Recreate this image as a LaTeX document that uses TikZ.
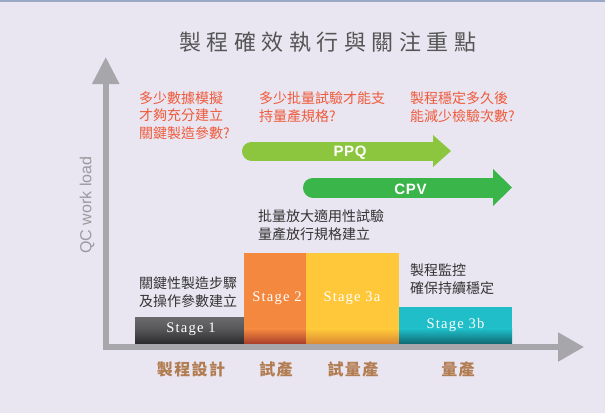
\documentclass[tikz,border=0pt]{standalone}
\usepackage{fontspec}
\newfontfamily\cjk{Noto Sans CJK TC}
\newfontfamily\lsans{Liberation Sans}
\newfontfamily\stagefont{Liberation Serif}[LetterSpace=8]
\usetikzlibrary{arrows.meta}
\definecolor{bg}{HTML}{E9E6F1}
\definecolor{topline}{HTML}{9AAAC6}
\definecolor{axisgray}{HTML}{A7A7AB}
\definecolor{titlegray}{HTML}{555555}
\definecolor{qred}{HTML}{EF5A3B}
\definecolor{notedark}{HTML}{333333}
\definecolor{phasebrown}{HTML}{B27C51}
\definecolor{ylabgray}{HTML}{9A9A9E}
\definecolor{ppqgreen}{HTML}{8CC63F}
\definecolor{cpvgreen}{HTML}{3AB54A}
\definecolor{sA}{HTML}{6A6A6C}
\definecolor{sAm}{HTML}{575759}
\definecolor{sAd}{HTML}{2C2C2E}
\definecolor{sB}{HTML}{F5883F}
\definecolor{sBd}{HTML}{A9402B}
\definecolor{sC}{HTML}{FFC83A}
\definecolor{sCd}{HTML}{DC8A33}
\definecolor{sD}{HTML}{1FBEC8}
\definecolor{sDd}{HTML}{0E6A74}
\tikzset{
  question/.style={anchor=north west, inner sep=0pt, align=left, text=qred,
    font=\cjk\fontsize{14}{17.5}\selectfont},
  note/.style={anchor=north west, inner sep=0pt, align=left, text=notedark,
    font=\cjk\fontsize{14}{18}\selectfont},
  phase/.style={anchor=center, inner sep=0pt, text=phasebrown,
    font=\cjk\bfseries\fontsize{16}{20}\selectfont\addfontfeature{LetterSpace=9}},
  stagetxt/.style={anchor=base, inner sep=0pt, text=white,
    font=\stagefont\fontsize{14.6}{16}\selectfont},
  arrowtxt/.style={anchor=base, inner sep=0pt, text=white,
    font=\lsans\bfseries\fontsize{15}{18}\selectfont\addfontfeature{LetterSpace=4}},
  axisline/.style={draw=axisgray, line width=5.5pt, line join=miter,
    {Triangle[length=27pt,width=26pt]}-{Triangle[length=26pt,width=28pt]}},
}
\begin{document}
\begin{tikzpicture}[x=1pt,y=-1pt]
\useasboundingbox (0,0) rectangle (605,413);
\fill[bg] (0,0) rectangle (605,413);
\fill[topline] (0,0) rectangle (605,1.5);

% title
\node[anchor=west, inner sep=0pt, text=titlegray,
  font=\cjk\fontsize{22}{26}\selectfont\addfontfeature{LetterSpace=25}]
  (title) at (179,42) {製程確效執行與關注重點};

% questions
\node[question] (q1) at (139,91.5) {多少數據模擬\\才夠充分建立\\關鍵製造參數?};
\node[question] (q2) at (259,91.5) {多少批量試驗才能支\\持量產規格?};
\node[question] (q3) at (410,91.5) {製程穩定多久後\\能減少檢驗次數?};

% PPQ arrow
\coordinate (ppqL) at (251.5,151);
\coordinate (ppqR) at (433,151);
\draw[ppqgreen, line width=19pt, line cap=round] (ppqL) -- (ppqR);
\fill[ppqgreen] (433,135) -- (451,151) -- (433,167) -- cycle;
\node[arrowtxt] (ppq) at (350,156.7) {PPQ};

% CPV arrow
\coordinate (cpvL) at (313,187.5);
\coordinate (cpvR) at (493,187.5);
\draw[cpvgreen, line width=20pt, line cap=round] (cpvL) -- (cpvR);
\fill[cpvgreen] (493,169) -- (512,187.5) -- (493,206) -- cycle;
\node[arrowtxt] (cpv) at (410.5,194.3) {CPV};

% notes
\node[note] (n1) at (258,209) {批量放大適用性試驗\\量產放行規格建立};
\node[note] (n2) at (139,276) {關鍵性製造步驟\\及操作參數建立};
\node[note] (n3) at (410,263) {製程監控\\確保持續穩定};

% bars
\shade[top color=sA, bottom color=sAm] (135,317.5) rectangle (244,329);
\shade[top color=sAm, bottom color=sAd] (135,328.8) rectangle (244,343.5);
\fill[sB] (244,253) rectangle (306,329);
\shade[top color=sB, bottom color=sBd] (244,328.8) rectangle (306,343.5);
\fill[sC] (306,253) rectangle (399,329);
\shade[top color=sC, bottom color=sCd] (306,328.8) rectangle (399,343.5);
\fill[sD] (399,307) rectangle (512,329);
\shade[top color=sD, bottom color=sDd] (399,328.8) rectangle (512,343.5);

\node[stagetxt] (s1) at (191,332) {Stage 1};
\node[stagetxt] (s2) at (277,301.7) {Stage 2};
\node[stagetxt] (s3a) at (352,301.7) {Stage 3a};
\node[stagetxt] (s3b) at (455.5,328) {Stage 3b};

% axes
\coordinate (ytip) at (105.75,57);
\coordinate (origin) at (105.75,347);
\coordinate (xtip) at (584,347);
\draw[axisline] (ytip) -- (origin) -- (xtip);
\node[rotate=90, inner sep=0pt, text=ylabgray, font=\lsans\fontsize{16}{18}\selectfont]
  (ylab) at (87,205) {QC work load};

% phases
\node[phase] (p1) at (191,369) {製程設計};
\node[phase] (p2) at (276,369) {試產};
\node[phase] (p3) at (353,369) {試量產};
\node[phase] (p4) at (458,369) {量產};
\end{tikzpicture}
\end{document}
